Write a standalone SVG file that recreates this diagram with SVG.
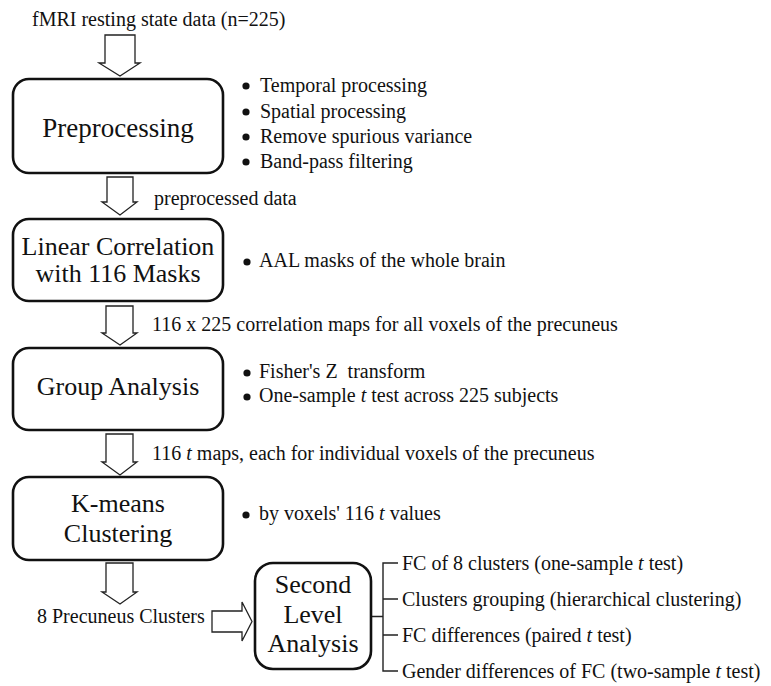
<svg xmlns="http://www.w3.org/2000/svg" width="771" height="686" viewBox="0 0 771 686">
<style>
text{font-family:"Liberation Serif","Times New Roman",serif;fill:#111;white-space:pre}
.t{font-size:20px}
.b{font-size:26px;text-anchor:middle}
.box{fill:#fff;stroke:#111;stroke-width:2.6}
.ar{fill:#fff;stroke:#222;stroke-width:1.3;stroke-linejoin:miter}
.ln{fill:none;stroke:#222;stroke-width:1.4}
.dot{fill:#111}
</style>
<rect width="771" height="686" fill="#fff"/>
<text id="label-input" class="t" x="32" y="26">fMRI resting state data (n=225)</text>

<g id="connectors">
<polygon class="ar" points="105,35 135,35 135,63 140,63 120,76 99,63 105,63"/>
<polygon class="ar" points="107,177 133,177 133,202 137,202 120,215 102,202 107,202"/>
<polygon class="ar" points="106,306 133,306 133,333 137,333 120,345 102,333 106,333"/>
<polygon class="ar" points="106,434 133,434 133,462 137,462 120,475 102,462 106,462"/>
<polygon class="ar" points="106,563 133,563 133,592 137,592 120,604 102,592 106,592"/>
<polygon class="ar" points="212,611 242,611 242,602 252,621.5 242,641 242,632 212,632"/>
<path class="ln" d="M371,616.5 H383 M398,563 H383 V671 H398 M383,599 H398 M383,635 H398"/>
</g>

<g id="preprocessing">
<rect class="box" x="13" y="79" width="210" height="94" rx="16"/>
<text class="b" x="118" y="137" style="font-size:27px">Preprocessing</text>
</g>
<g id="preprocessing-notes">
<circle class="dot" cx="246" cy="86" r="3.6"/><text class="t" x="260" y="92">Temporal processing</text>
<circle class="dot" cx="246" cy="112" r="3.6"/><text class="t" x="260" y="118">Spatial processing</text>
<circle class="dot" cx="246" cy="137" r="3.6"/><text class="t" x="260" y="143">Remove spurious variance</text>
<circle class="dot" cx="246" cy="162" r="3.6"/><text class="t" x="260" y="168">Band-pass filtering</text>
</g>
<text id="label-preprocessed" class="t" x="154" y="205">preprocessed data</text>

<g id="linear-correlation">
<rect class="box" x="13" y="219" width="210" height="82" rx="16"/>
<text class="b" x="118" y="255">Linear Correlation</text>
<text class="b" x="118" y="282">with 116 Masks</text>
</g>
<g id="linear-notes">
<circle class="dot" cx="247" cy="262" r="3.6"/><text class="t" x="259" y="267">AAL masks of the whole brain</text>
</g>
<text id="label-corrmaps" class="t" x="152" y="331">116 x 225 correlation maps for all voxels of the precuneus</text>

<g id="group-analysis">
<rect class="box" x="13" y="348" width="210" height="82" rx="16"/>
<text class="b" x="118" y="395">Group Analysis</text>
</g>
<g id="group-notes">
<circle class="dot" cx="247" cy="373" r="3.6"/><text class="t" x="259" y="378">Fisher's Z  transform</text>
<circle class="dot" cx="247" cy="397" r="3.6"/><text class="t" x="259" y="402">One-sample <tspan font-style="italic">t</tspan> test across 225 subjects</text>
</g>
<text id="label-tmaps" class="t" x="152" y="460">116 <tspan font-style="italic">t</tspan> maps, each for individual voxels of the precuneus</text>

<g id="kmeans">
<rect class="box" x="13" y="477" width="210" height="83" rx="16"/>
<text class="b" x="118" y="512">K-means</text>
<text class="b" x="118" y="542">Clustering</text>
</g>
<g id="kmeans-notes">
<circle class="dot" cx="246" cy="515" r="3.6"/><text class="t" x="259" y="520">by voxels' 116 <tspan font-style="italic">t</tspan> values</text>
</g>
<text id="label-clusters" class="t" x="37" y="623">8 Precuneus Clusters</text>

<g id="second-level">
<rect class="box" x="255" y="563" width="116" height="106" rx="18"/>
<text class="b" x="313" y="593">Second</text>
<text class="b" x="313" y="623">Level</text>
<text class="b" x="313" y="652">Analysis</text>
</g>
<g id="second-level-items">
<text class="t" x="402" y="570">FC of 8 clusters (one-sample <tspan font-style="italic">t</tspan> test)</text>
<text class="t" x="402" y="606">Clusters grouping (hierarchical clustering)</text>
<text class="t" x="402" y="642">FC differences (paired <tspan font-style="italic">t</tspan> test)</text>
<text class="t" x="402" y="678">Gender differences of FC (two-sample <tspan font-style="italic">t</tspan> test)</text>
</g>
</svg>
